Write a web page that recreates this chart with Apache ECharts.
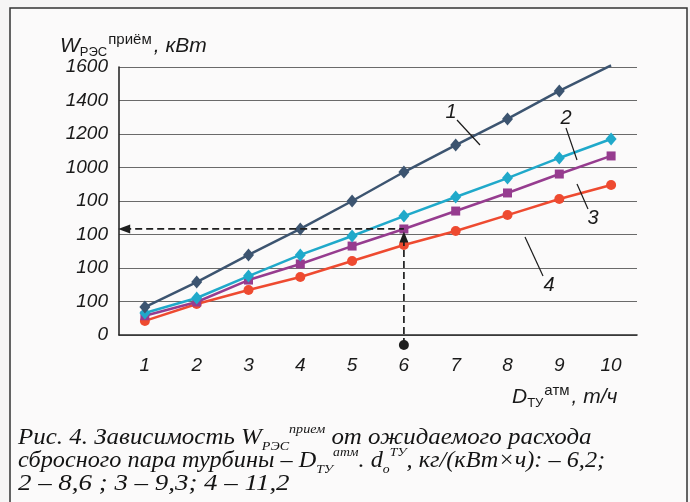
<!DOCTYPE html>
<html><head><meta charset="utf-8">
<script src="https://cdn.jsdelivr.net/npm/echarts@6/dist/echarts.min.js"></script>
<style>html,body{margin:0;padding:0;background:#f6f5f5}#c{width:690px;height:502px}</style>
</head><body><div id="c"></div>
<script>
const categories = ['1','2','3','4','5','6','7','8','9','10'];
const yTickLabels = ['0','100','100','100','100','1000','1200','1400','1600'];
const series1 = [167, 316, 478, 633, 800, 973, 1134, 1290, 1457, 1610];
const series2 = [131, 221, 352, 478, 591, 710, 824, 937, 1057, 1170];
const series3 = [115, 197, 328, 424, 531, 633, 740, 848, 961, 1069];
const series4 = [84, 185, 269, 346, 442, 537, 621, 716, 812, 896];
const seriesNames = ['1', '2', '3', '4'];
const guideX = 6, guideY = 633, guideArrowX = 0.6, guideArrowY = 585, guideDotY = -60;

const SANS = '"Liberation Sans", Arial, sans-serif';
const SERIF = '"Liberation Serif", "Times New Roman", serif';
const chart = echarts.init(document.getElementById('c'), null, {renderer: 'canvas'});

function mkSeries(name, data, color, symbol, size, z) {
  return {
    name, type: 'line', data: data.map((v, i) => (name === '1' && i === data.length - 1) ? {value: v, symbol: 'none'} : v),
    symbol, symbolSize: size, showSymbol: true, z,
    lineStyle: {color, width: 2.5}, itemStyle: {color, borderWidth: 0},
    clip: false, animation: false
  };
}

const capMain = {fontFamily: SERIF, fontStyle: 'italic', fontSize: 23, fill: '#141414', lineHeight: 30};
const capSub = {fontFamily: SERIF, fontStyle: 'italic', fontSize: 13, fill: '#141414', lineHeight: 14, verticalAlign: 'bottom'};
const capSup = {fontFamily: SERIF, fontStyle: 'italic', fontSize: 13, fill: '#141414', lineHeight: 14, verticalAlign: 'top'};
const capRich = {m: capMain, b: capSub, p: capSup};

const axMain = {fontFamily: SANS, fontStyle: 'italic', fontSize: 21, fill: '#1a1a1a', lineHeight: 28};
const axSub = {fontFamily: SANS, fontSize: 13, fill: '#1a1a1a', lineHeight: 14, verticalAlign: 'bottom', padding: [0,0,1,0]};
const axSup = {fontFamily: SANS, fontSize: 15, fill: '#1a1a1a', lineHeight: 16, verticalAlign: 'top', padding: [0,2,0,1]};
const axRich = {m: axMain, b: axSub, p: axSup};

function capText(x, y, text, sx) {
  return {type: 'text', x, y, scaleX: sx, z: 10,
    style: {text, rich: capRich, align: 'left', verticalAlign: 'middle', fontFamily: SERIF, fontStyle: 'italic', fontSize: 23}};
}
function lab(x, y, t) {
  return {type: 'text', x, y, z: 10, style: {text: t, fontFamily: SANS, fontStyle: 'italic', fontSize: 20, fill: '#1a1a1a', align: 'center', verticalAlign: 'middle'}};
}
function leader(x1, y1, x2, y2) {
  return {type: 'line', z: 10, shape: {x1, y1, x2, y2}, style: {stroke: '#1a1a1a', lineWidth: 1.2}};
}

const option = {
  backgroundColor: '#f6f5f5',
  animation: false,
  grid: {left: 119, right: 53, top: 67, bottom: 167, show: true, borderColor: '#4a4a4a', borderWidth: 1.2, backgroundColor: 'transparent'},
  xAxis: [{
    type: 'category', data: categories, boundaryGap: true,
    axisLine: {lineStyle: {color: '#2a2a2a', width: 1.6}},
    axisTick: {inside: true, length: 7, lineStyle: {color: '#2a2a2a', width: 1.2}},
    axisLabel: {fontFamily: SANS, fontStyle: 'italic', fontSize: 19, color: '#1a1a1a', margin: 21},
    splitLine: {show: false}
  }, {
    type: 'value', min: 0.5, max: 10.5, show: false
  }],
  yAxis: {
    type: 'value', min: 0, max: 1600, interval: 200,
    axisLine: {show: true, lineStyle: {color: '#2a2a2a', width: 1.6}},
    axisTick: {show: false},
    axisLabel: {fontFamily: SANS, fontStyle: 'italic', fontSize: 19, color: '#1a1a1a', margin: 11,
      formatter: (v) => yTickLabels[Math.round(v / 200)]},
    splitLine: {lineStyle: {color: '#6a6a6a', width: 1}}
  },
  series: [
    mkSeries(seriesNames[3], series4, '#ee4a30', 'circle', 10, 3),
    mkSeries(seriesNames[2], series3, '#963c8f', 'rect', 9, 4),
    mkSeries(seriesNames[1], series2, '#20a9ca', 'diamond', [11, 13], 5),
    mkSeries(seriesNames[0], series1, '#3c5470', 'diamond', [11, 13], 6),
    {
      type: 'line', xAxisIndex: 1, z: 8, clip: false, animation: false,
      data: [{value: [guideArrowX, guideY], symbol: 'triangle', symbolSize: [9, 12], symbolRotate: 90},
             {value: [guideX, guideY], symbol: 'none'}],
      lineStyle: {color: '#1e1e1e', width: 1.7, type: [7, 4]}, itemStyle: {color: '#1e1e1e'}
    },
    {
      type: 'line', xAxisIndex: 1, z: 8, clip: false, animation: false,
      data: [{value: [guideX, guideDotY], symbol: 'circle', symbolSize: 10},
             {value: [guideX, guideArrowY], symbol: 'triangle', symbolSize: [9, 11]}],
      lineStyle: {color: '#1e1e1e', width: 1.7, type: [7, 4]}, itemStyle: {color: '#1e1e1e'}
    }
  ],
  graphic: [
    {type: 'rect', z: 0, shape: {x: 10, y: 8, width: 677, height: 500}, style: {fill: '#fbfafa', stroke: '#333', lineWidth: 1.5}},
    {type: 'text', x: 60, y: 46, z: 10, style: {text: '{m|W}{b|РЭС}{p|приём}{m|, кВт}', rich: axRich, align: 'left', verticalAlign: 'middle'}},
    {type: 'text', x: 512, y: 397, z: 10, style: {text: '{m|D}{b|ТУ}{p|атм}{m|, т/ч}', rich: axRich, align: 'left', verticalAlign: 'middle'}},
    lab(451, 112, seriesNames[0]), leader(457, 120, 480, 145),
    lab(566, 118, seriesNames[1]), leader(566, 128, 577, 160),
    lab(593, 218, seriesNames[2]), leader(577, 184, 588, 209),
    lab(549, 285, seriesNames[3]), leader(525, 237, 543, 276),
    capText(18, 438, '{m|Рис. 4. Зависимость W}{b|РЭС}{p|прием}{m| от ожидаемого расхода}', 1.085),
    capText(18, 461, '{m|сбросного пара турбины – D}{b|ТУ}{p|атм}{m|. d}{b|o}{p|ТУ}{m|, кг/(кВт×ч): – 6,2;}', 1.055),
    capText(18, 484, '{m|2 – 8,6 ; 3 – 9,3; 4 – 11,2}', 1.17)
  ]
};
chart.setOption(option);
</script></body></html>
